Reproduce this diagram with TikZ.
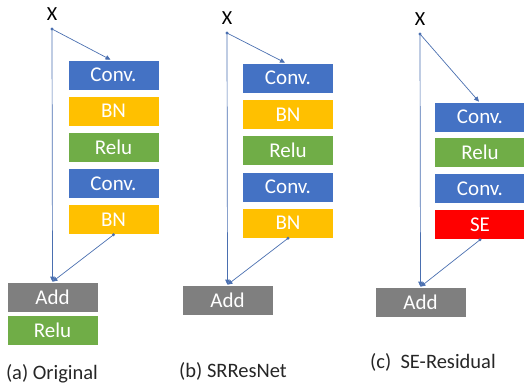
\documentclass[tikz,border=0pt]{standalone}
\usepackage{fontspec}
\setmainfont{Carlito}
\usetikzlibrary{arrows.meta}
\definecolor{cblue}{HTML}{4472C4}
\definecolor{cyel}{HTML}{FFC000}
\definecolor{cgreen}{HTML}{70AD47}
\definecolor{cgray}{HTML}{7F7F7F}
\definecolor{cred}{HTML}{FF0000}
\definecolor{lnk}{HTML}{4A6FB0}
\tikzset{
  blk/.style={draw=white, line width=0.6pt, minimum width=91pt, minimum height=30pt, inner sep=0pt, text=white, font=\fontsize{21}{21}\selectfont},
  conv/.style={blk, fill=cblue},
  bn/.style={blk, fill=cyel},
  relu/.style={blk, fill=cgreen},
  add/.style={blk, fill=cgray},
  se/.style={blk, fill=cred},
  lab/.style={font=\fontsize{20.5}{20.5}\selectfont, text=black!85},
  xlab/.style={font=\fontsize{20}{20}\selectfont, text=black},
  link/.style={draw=lnk, line width=0.7pt, -{Triangle[length=5pt,width=4.5pt]}},
  dot/.style={circle, fill=lnk, inner sep=0pt, minimum size=3.2pt}
}
\begin{document}
\begin{tikzpicture}[x=1pt,y=-1pt]
\useasboundingbox (0,0) rectangle (524,385);
% (a)
\node[xlab] (xa) at (52,14) {X};
\node[dot] (da) at (52,29) {};
\node[conv] (a1) at (113.5,75) {Conv.};
\node[bn] (a2) at (113.5,111) {BN};
\node[relu] (a3) at (113.5,147) {Relu};
\node[conv] (a4) at (113.5,183.5) {Conv.};
\node[bn] (a5) at (113.5,219.5) {BN};
\node[add] (aadd) at (52.5,297) {Add};
\node[relu] (arelu) at (52.5,330) {Relu};
\node[dot] (ea) at (a5.south) {};
\draw[link] (da.center) -- ([xshift=-3pt]a1.north);
\draw[link] (da.center) -- (aadd.north);
\draw[link] (ea.center) -- (aadd.north);
\node[lab] (la) at (52,374) {(a) Original};
% (b)
\node[xlab] (xb) at (227,18) {X};
\node[dot] (db) at (227,33) {};
\node[conv] (b1) at (288,78) {Conv.};
\node[bn] (b2) at (288,114.5) {BN};
\node[relu] (b3) at (288,150.5) {Relu};
\node[conv] (b4) at (288,187) {Conv.};
\node[bn] (b5) at (288,223) {BN};
\node[add] (badd) at (227.5,300) {Add};
\node[dot] (eb) at (b5.south) {};
\draw[link] (db.center) -- ([xshift=-3pt]b1.north);
\draw[link] (db.center) -- (badd.north);
\draw[link] (eb.center) -- (badd.north);
\node[lab] (lb) at (233,371) {(b) SRResNet};
% (c)
\node[xlab] (xc) at (420,19) {X};
\node[dot] (dc) at (420,34) {};
\node[conv] (c1) at (480,117) {Conv.};
\node[relu] (c2) at (480,152.5) {Relu};
\node[conv] (c3) at (480,188.5) {Conv.};
\node[se] (c4) at (480,224.5) {SE};
\node[add] (cadd) at (420.5,302) {Add};
\node[dot] (ec) at (c4.south) {};
\draw[link] (dc.center) -- ([xshift=-1pt]c1.north);
\draw[link] (dc.center) -- (cadd.north);
\draw[link] (ec.center) -- (cadd.north);
\node[lab] (lc) at (433,362) {(c)\ \ SE-Residual};
\end{tikzpicture}
\end{document}
